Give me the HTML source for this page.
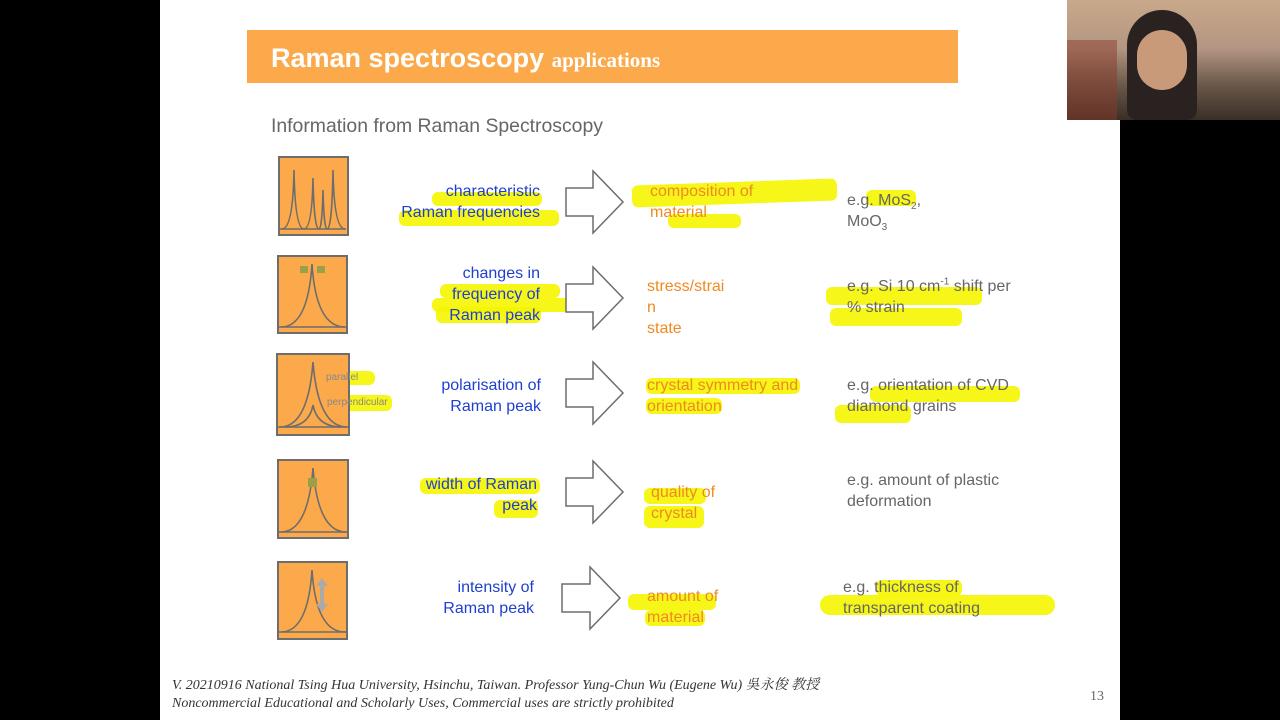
<!DOCTYPE html>
<html><head><meta charset="utf-8"><style>
body{margin:0;width:1280px;height:720px;background:#000;position:relative;overflow:hidden;font-family:"Liberation Sans","Noto Sans CJK TC",sans-serif}
.a{position:absolute}
.slide{left:160px;top:0;width:960px;height:720px;background:#fff}
.hl{position:absolute;background:#f5f500;border-radius:6px;opacity:.9}
.t{position:absolute;font-size:16px;line-height:21px}
.t sub,.t sup{line-height:0;font-size:10px}
.blue{color:#1f3fd0;text-align:right}
.or{color:#f08a20}
.gr{color:#666}
</style></head><body>
<div class="a slide"></div>
<div class="a" style="left:1067px;top:0;width:213px;height:120px;background:linear-gradient(180deg,#c9a98a 0%,#b49683 40%,#6c5a4a 70%,#3a2e26 100%)">
 <div class="a" style="left:60px;top:10px;width:70px;height:110px;border-radius:35px 35px 10px 10px;background:#2a2220"></div>
 <div class="a" style="left:70px;top:30px;width:50px;height:60px;border-radius:25px;background:#c89a7a"></div>
 <div class="a" style="left:0;top:40px;width:50px;height:80px;background:#8a3a2a;opacity:.5"></div>
</div>
<div class="a" style="left:247px;top:30px;width:711px;height:53px;background:#fba94a"></div>
<div class="a" style="left:271px;top:43px;color:#fff;font-size:27px;font-weight:bold">Raman spectroscopy <span style="font-family:'Liberation Serif',serif;font-size:21px">applications</span></div>
<div class="a" style="left:271px;top:115px;color:#666;font-size:19.4px">Information from Raman Spectroscopy</div>

<div class="hl" style="left:432px;top:192px;width:110px;height:14px"></div>
<div class="hl" style="left:399px;top:210px;width:160px;height:16px"></div>
<div class="hl" style="left:632px;top:182px;width:205px;height:22px;transform:rotate(-2deg)"></div>
<div class="hl" style="left:668px;top:214px;width:73px;height:14px"></div>
<div class="hl" style="left:866px;top:190px;width:50px;height:16px"></div>
<div class="hl" style="left:440px;top:284px;width:120px;height:14px"></div>
<div class="hl" style="left:432px;top:298px;width:170px;height:14px"></div>
<div class="hl" style="left:436px;top:307px;width:105px;height:16px"></div>
<div class="hl" style="left:826px;top:287px;width:156px;height:18px"></div>
<div class="hl" style="left:830px;top:308px;width:132px;height:18px"></div>
<div class="hl" style="left:326px;top:371px;width:49px;height:14px"></div>
<div class="hl" style="left:328px;top:395px;width:64px;height:16px"></div>
<div class="hl" style="left:646px;top:378px;width:154px;height:16px"></div>
<div class="hl" style="left:646px;top:398px;width:76px;height:16px"></div>
<div class="hl" style="left:870px;top:386px;width:150px;height:16px"></div>
<div class="hl" style="left:835px;top:405px;width:76px;height:18px"></div>
<div class="hl" style="left:420px;top:478px;width:120px;height:16px"></div>
<div class="hl" style="left:494px;top:500px;width:44px;height:18px"></div>
<div class="hl" style="left:644px;top:488px;width:62px;height:16px"></div>
<div class="hl" style="left:644px;top:506px;width:60px;height:22px"></div>
<div class="hl" style="left:628px;top:594px;width:88px;height:16px"></div>
<div class="hl" style="left:645px;top:610px;width:60px;height:16px"></div>
<div class="hl" style="left:876px;top:580px;width:86px;height:16px"></div>
<div class="hl" style="left:820px;top:595px;width:235px;height:20px;border-radius:10px"></div>

<svg class="a" style="left:0;top:0" width="1280" height="720">
 <g fill="#fba94a" stroke="#6d6d6d" stroke-width="2">
  <rect x="279" y="157" width="69" height="78"/>
  <rect x="278" y="256" width="69" height="77"/>
  <rect x="277" y="354" width="72" height="81"/>
  <rect x="278" y="460" width="70" height="78"/>
  <rect x="278" y="562" width="69" height="77"/>
 </g>
 <g fill="none" stroke="#6d6d6d" stroke-width="1.6">
  <path d="M280 229 H346"/><path d="M279 327 H346"/><path d="M278 427 H348"/><path d="M279 532 H347"/><path d="M279 632 H346"/>
  <path d="M282 229 Q293 229 294 170 Q295 229 304 229 Q312 229 313 178 Q314 229 319 229 Q322 229 323 190 Q324 229 327 229 Q332 229 333 170 Q334 229 345 229"/>
  <path d="M281 327 Q308 327 312 264 Q316 327 345 327"/>
  <path d="M280 427 Q308 427 313 362 Q318 427 347 427"/>
  <path d="M285 427 Q309 427 313 405 Q317 427 342 427"/>
  <path d="M281 532 Q308 532 313 468 Q318 532 346 532"/>
  <path d="M281 632 Q308 632 312 570 Q316 632 345 632"/>
 </g>
 <g fill="#9aa04a"><rect x="300" y="266" width="8" height="7"/><rect x="317" y="266" width="8" height="7"/><rect x="308" y="478" width="9" height="9"/></g>
 <path d="M322 578 l6 8 h-4 v18 h4 l-6 8 l-6 -8 h4 v-18 h-4z" fill="#aaa"/>
 <g fill="#fff" stroke="#6d6d6d" stroke-width="1.5">
  <path d="M566 188 H593 V171 L623 202 L593 233 V216 H566Z"/>
  <path d="M566 284 H593 V267 L623 298 L593 329 V312 H566Z"/>
  <path d="M566 379 H593 V362 L623 393 L593 424 V407 H566Z"/>
  <path d="M566 478 H593 V461 L623 492 L593 523 V506 H566Z"/>
  <path d="M562 584 H590 V567 L620 598 L590 629 V612 H562Z"/>
 </g>
</svg>
<div class="a" style="left:326px;top:372px;font-size:10px;color:#888">parallel</div>
<div class="a" style="left:327px;top:397px;font-size:10px;color:#888">perpendicular</div>

<div class="t blue" style="left:380px;top:181px;width:160px">characteristic<br>Raman frequencies</div>
<div class="t or" style="left:650px;top:181px">composition of<br>material</div>
<div class="t gr" style="left:847px;top:190px">e.g. MoS<sub>2</sub>,<br>MoO<sub>3</sub></div>

<div class="t blue" style="left:380px;top:263px;width:160px">changes in<br>frequency of<br>Raman peak</div>
<div class="t or" style="left:647px;top:276px">stress/strai<br>n<br>state</div>
<div class="t gr" style="left:847px;top:276px">e.g. Si 10 cm<sup>-1</sup> shift per<br>% strain</div>

<div class="t blue" style="left:380px;top:375px;width:161px">polarisation of<br>Raman peak</div>
<div class="t or" style="left:647px;top:375px">crystal symmetry and<br>orientation</div>
<div class="t gr" style="left:847px;top:375px">e.g. orientation of CVD<br>diamond grains</div>

<div class="t blue" style="left:380px;top:474px;width:157px">width of Raman<br>peak</div>
<div class="t or" style="left:651px;top:482px">quality of<br>crystal</div>
<div class="t gr" style="left:847px;top:470px">e.g. amount of plastic<br>deformation</div>

<div class="t blue" style="left:380px;top:577px;width:154px">intensity of<br>Raman peak</div>
<div class="t or" style="left:647px;top:586px">amount of<br>material</div>
<div class="t gr" style="left:843px;top:577px">e.g. thickness of<br>transparent coating</div>

<div class="a" style="left:172px;top:677px;font-family:'Liberation Serif','Noto Serif CJK SC',serif;font-style:italic;font-size:14px;line-height:18px;color:#333">V. 20210916 National Tsing Hua University, Hsinchu, Taiwan. Professor Yung-Chun Wu (Eugene Wu) 吳永俊 教授<br>Noncommercial Educational and Scholarly Uses, Commercial uses are strictly prohibited</div>
<div class="a" style="left:1090px;top:689px;font-family:'Liberation Serif',serif;font-size:14px;color:#666">13</div>
</body></html>
